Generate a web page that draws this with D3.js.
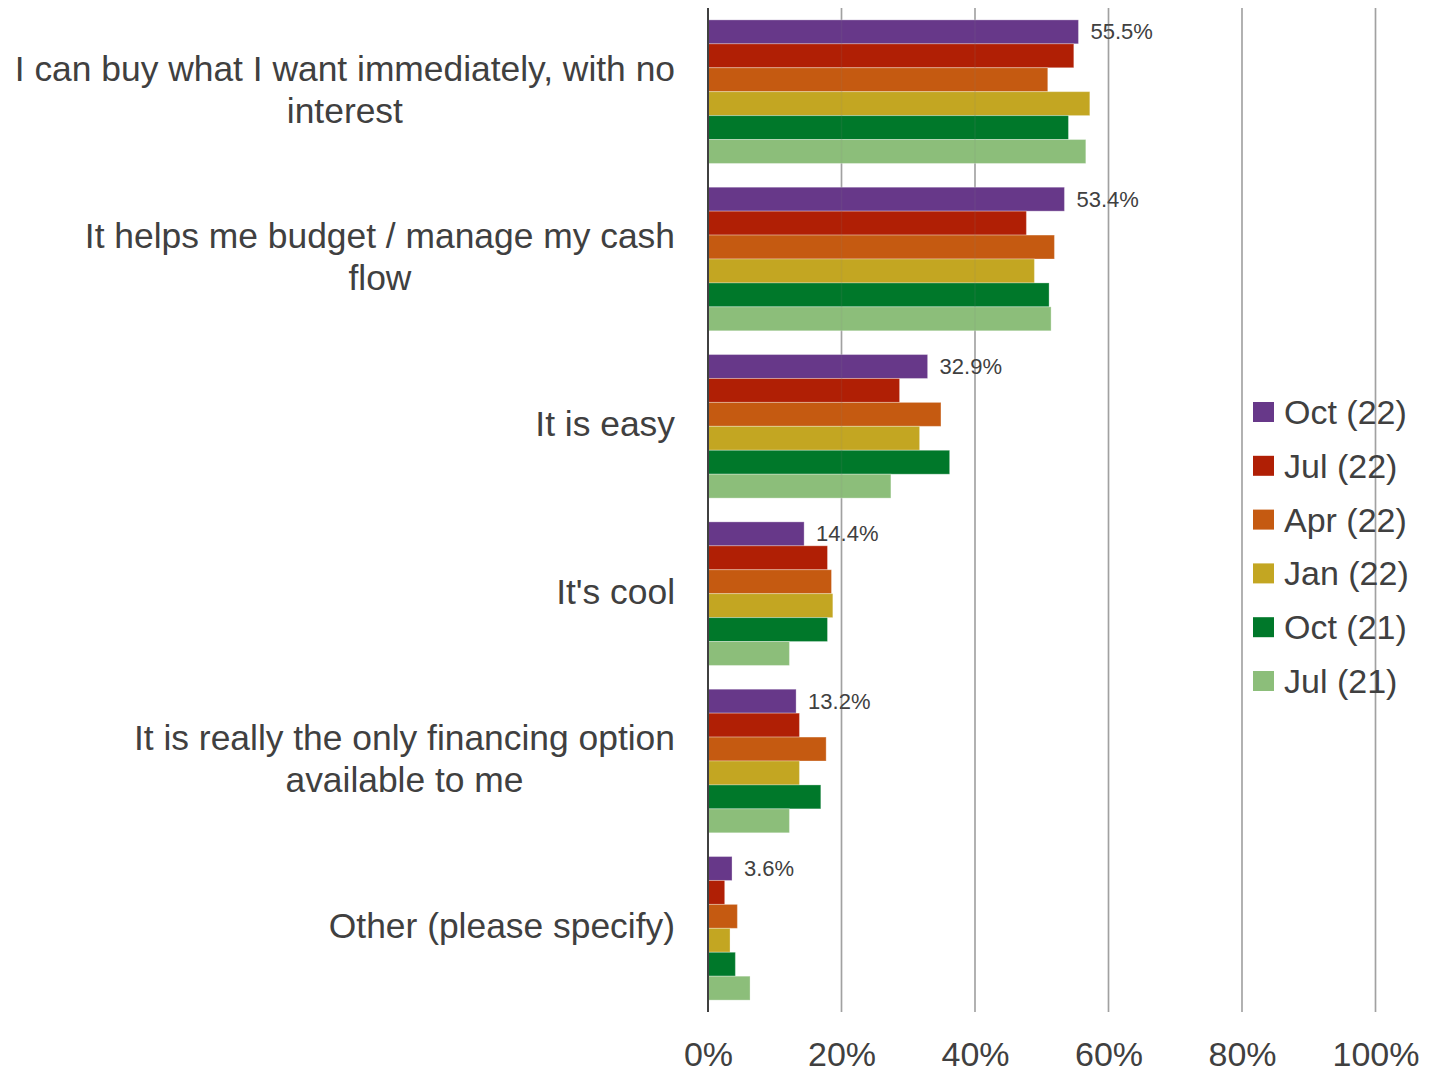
<!DOCTYPE html>
<html>
<head>
<meta charset="utf-8">
<script src="https://cdn.jsdelivr.net/npm/d3@7"></script>
<style>
  html, body { margin: 0; padding: 0; background: #ffffff; }
  svg { display: block; font-family: "Liberation Sans", Arial, sans-serif; }
</style>
</head>
<body>
<svg id="chart" width="1440" height="1074"></svg>
<script>
// Reasons given, one entry per row; "\n" marks where a label wraps
const categories = [
  "I can buy what I want immediately, with no\ninterest",
  "It helps me budget / manage my cash\nflow",
  "It is easy",
  "It's cool",
  "It is really the only financing option\navailable to me",
  "Other (please specify)"
];

// Survey waves, newest first
const seriesNames = ["Oct (22)", "Jul (22)", "Apr (22)", "Jan (22)", "Oct (21)", "Jul (21)"];
const seriesColors = ["#673889", "#B01F05", "#C55A11", "#C3A622", "#00782A", "#8CBE7A"];

// Share of respondents (%) per wave, in category order
const oct22 = [55.5, 53.4, 32.9, 14.4, 13.2, 3.6];
const jul22 = [54.8, 47.7, 28.7, 17.9, 13.7, 2.5];
const apr22 = [50.9, 51.9, 34.9, 18.5, 17.7, 4.4];
const jan22 = [57.2, 48.9, 31.7, 18.7, 13.7, 3.3];
const oct21 = [54.0, 51.1, 36.2, 17.9, 16.9, 4.1];
const jul21 = [56.6, 51.4, 27.4, 12.2, 12.2, 6.3];
const seriesValues = [oct22, jul22, apr22, jan22, oct21, jul21];

// Axis ticks
const tickValues = [0, 20, 40, 60, 80, 100];

const svg = d3.select("#chart");
const textColor = "#404040";

const x = d3.scaleLinear().domain([0, 100]).range([708, 1375.5]);
const y = d3.scaleBand().domain(d3.range(categories.length))
  .range([8, 1012]).paddingInner(0.142).paddingOuter(0.071);
const ySub = d3.scaleBand().domain(d3.range(seriesNames.length))
  .range([0, y.bandwidth()]);

// Vertical gridlines
svg.append("g").selectAll("line")
  .data(tickValues.slice(1))
  .join("line")
  .attr("x1", d => x(d)).attr("x2", d => x(d))
  .attr("y1", 8).attr("y2", 1012)
  .attr("stroke", "#a6a6a6").attr("stroke-width", 1.6);

// Bars
const rows = categories.map((c, i) => ({ i, vals: seriesValues.map(s => s[i]) }));
const groups = svg.append("g").selectAll("g")
  .data(rows).join("g")
  .attr("transform", d => `translate(0,${y(d.i)})`);

groups.selectAll("rect")
  .data(d => d.vals.map((v, k) => ({ v, k })))
  .join("rect")
  .attr("x", x(0))
  .attr("y", d => ySub(d.k))
  .attr("width", d => x(d.v) - x(0))
  .attr("height", ySub.bandwidth())
  .attr("fill", d => seriesColors[d.k])
  .attr("stroke", "#ffffff").attr("stroke-opacity", 0.3).attr("stroke-width", 1);

// Faint gridline trace showing through the bars
svg.append("g").selectAll("line")
  .data(tickValues.slice(1))
  .join("line")
  .attr("x1", d => x(d)).attr("x2", d => x(d))
  .attr("y1", 8).attr("y2", 1012)
  .attr("stroke", "#808080").attr("stroke-opacity", 0.12).attr("stroke-width", 1.6);

// Value labels for the latest wave
groups.append("text")
  .attr("x", d => x(d.vals[0]) + 12)
  .attr("y", ySub(0) + ySub.bandwidth() / 2)
  .attr("dominant-baseline", "central")
  .attr("font-size", 22)
  .attr("fill", textColor)
  .text(d => d.vals[0].toFixed(1) + "%");

// Axis line
svg.append("line")
  .attr("x1", x(0)).attr("x2", x(0))
  .attr("y1", 8).attr("y2", 1012)
  .attr("stroke", "#404040").attr("stroke-width", 2);

// Tick labels
const xAxis = d3.axisBottom(x).tickValues(tickValues)
  .tickFormat(d => d + "%").tickSize(0).tickPadding(0);
const ax = svg.append("g").attr("transform", "translate(0,1040)").call(xAxis);
ax.select(".domain").remove();
ax.selectAll("text")
  .attr("font-size", 34)
  .attr("font-family", "Liberation Sans, Arial, sans-serif")
  .attr("fill", textColor)
  .attr("dy", null)
  .attr("y", 26);

// Category labels: lines centred on each other, block right-aligned
const labelRight = 675;
const lineH = 42;
categories.forEach((c, i) => {
  const lines = c.split("\n");
  const g = svg.append("g");
  const texts = lines.map((ln, j) => g.append("text")
    .attr("font-size", 35.4)
    .attr("fill", textColor)
    .attr("text-anchor", "middle")
    .attr("dominant-baseline", "central")
    .attr("y", y(i) + y.bandwidth() / 2 - 2 + (j - (lines.length - 1) / 2) * lineH)
    .text(ln));
  const maxW = d3.max(texts, t => t.node().getComputedTextLength());
  texts.forEach(t => t.attr("x", labelRight - maxW / 2));
});

// Legend
const legend = svg.append("g").selectAll("g")
  .data(seriesNames).join("g")
  .attr("transform", (d, k) => `translate(1253,${412 + k * 53.8})`);
legend.append("rect")
  .attr("x", 0).attr("y", -10).attr("width", 21).attr("height", 20)
  .attr("fill", (d, k) => seriesColors[k]);
legend.append("text")
  .attr("x", 31).attr("y", 0)
  .attr("dominant-baseline", "central")
  .attr("font-size", 34)
  .attr("fill", textColor)
  .text(d => d);
</script>
</body>
</html>
